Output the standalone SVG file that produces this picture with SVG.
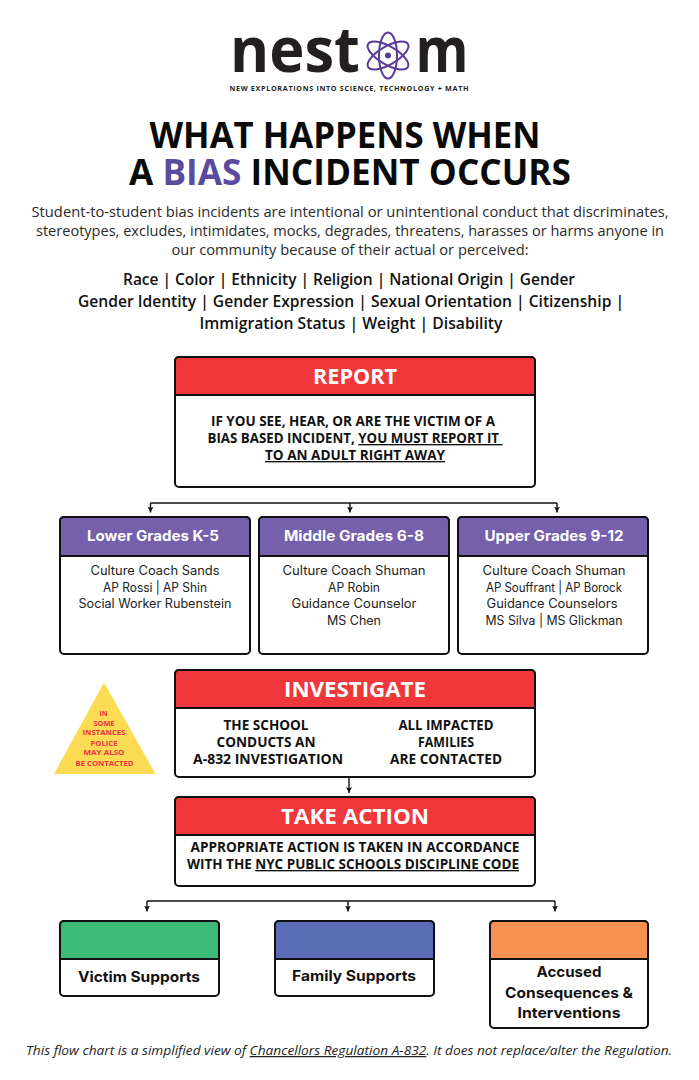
<svg xmlns="http://www.w3.org/2000/svg" width="699" height="1080" viewBox="0 0 699 1080">
<style>
text{font-family:"Open Sans","Liberation Sans",sans-serif;text-anchor:middle;fill:#000;white-space:pre}
.h{font-weight:700;font-size:35px;fill:#0a0a0a}
.b{font-size:14.4px;fill:#2a2a2a}
.g{font-weight:600;font-size:16px;fill:#111}
.box{fill:#fff;stroke:#111;stroke-width:2}
.hd{stroke:#111;stroke-width:2}
.t{font-weight:700;fill:#fff;font-size:21.5px}
.c{font-weight:700;font-size:13.4px;fill:#111}
.pt{font-family:Inter,"Open Sans",sans-serif;font-weight:700;fill:#fff;font-size:14px}
.m{font-family:Inter,"Open Sans",sans-serif;font-size:12.4px;fill:#222}
.s{font-family:Inter,"Open Sans",sans-serif;font-weight:700;font-size:14.5px;fill:#111}
.p{font-weight:700;font-size:7.6px;fill:#ee3344}
.l{stroke:#111;stroke-width:1.4;fill:none}
.logo{font-size:62px;font-weight:700;fill:#231f20}
</style>
<defs><marker id="a" markerWidth="7" markerHeight="7" refX="6" refY="3.5" orient="auto" markerUnits="userSpaceOnUse" viewBox="0 0 7 7"><path d="M0 0.500L6 3.500L0 6.500L1.500 3.500Z" fill="#111"/></marker></defs>
<rect width="699" height="1080" fill="#fff"/>
<g id="logo">
<text class="logo" x="295" y="72" textLength="130" lengthAdjust="spacingAndGlyphs">nest</text>
<text class="logo" x="442" y="72" textLength="53" lengthAdjust="spacingAndGlyphs">m</text>
<g fill="none" stroke="#5c3a98" stroke-width="2">
<ellipse cx="388" cy="55.500" rx="9" ry="23"/>
<ellipse cx="388" cy="55.500" rx="9" ry="23" transform="rotate(60 388 55.500)"/>
<ellipse cx="388" cy="55.500" rx="9" ry="23" transform="rotate(-60 388 55.500)"/>
<circle cx="388" cy="55.500" r="3" fill="#5c3a98" stroke="none"/>
</g>
<text x="349" y="91" style="font-weight:700;font-size:7.2px;fill:#231f20" textLength="239" lengthAdjust="spacing">NEW EXPLORATIONS INTO SCIENCE, TECHNOLOGY + MATH</text>
</g>
<g id="title">
<text class="h" x="345" y="148" textLength="391" lengthAdjust="spacingAndGlyphs">WHAT HAPPENS WHEN</text>
<text class="h" x="350" y="184.500" textLength="442" lengthAdjust="spacingAndGlyphs">A <tspan fill="#5b4b9f">BIAS</tspan> INCIDENT OCCURS</text>
</g>
<g id="intro">
<text class="b" x="350" y="217" textLength="637" lengthAdjust="spacingAndGlyphs">Student-to-student bias incidents are intentional or unintentional conduct that discriminates,</text>
<text class="b" x="350" y="236" textLength="628" lengthAdjust="spacingAndGlyphs">stereotypes, excludes, intimidates, mocks, degrades, threatens, harasses or harms anyone in</text>
<text class="b" x="350" y="255" textLength="357" lengthAdjust="spacingAndGlyphs">our community because of their actual or perceived:</text>
</g>
<g id="groups">
<text class="g" x="349" y="285" textLength="452" lengthAdjust="spacingAndGlyphs">Race | Color | Ethnicity | Religion | National Origin | Gender</text>
<text class="g" x="351" y="307" textLength="546" lengthAdjust="spacingAndGlyphs">Gender Identity | Gender Expression | Sexual Orientation | Citizenship |</text>
<text class="g" x="351" y="329" textLength="303" lengthAdjust="spacingAndGlyphs">Immigration Status | Weight | Disability</text>
</g>
<g id="connectors">
<path class="l" d="M150.500 503H557"/>
<path class="l" d="M150.500 503V512.500" marker-end="url(#a)"/>
<path class="l" d="M350 503V512.500" marker-end="url(#a)"/>
<path class="l" d="M557 503V512.500" marker-end="url(#a)"/>
<path class="l" d="M349 777V793" marker-end="url(#a)"/>
<path class="l" d="M147 901H555"/>
<path class="l" d="M147 901V911.500" marker-end="url(#a)"/>
<path class="l" d="M348 901V911.500" marker-end="url(#a)"/>
<path class="l" d="M555 901V911.500" marker-end="url(#a)"/>
</g>
<g id="report">
<rect class="box" x="175" y="357" width="360" height="130" rx="4"/>
<path class="hd" fill="#ef373c" d="M175 395V361a4 4 0 0 1 4-4H531a4 4 0 0 1 4 4V395Z"/>
<text class="t" x="355" y="384" textLength="84" lengthAdjust="spacingAndGlyphs">REPORT</text>
<text class="c" x="353" y="426" textLength="284" lengthAdjust="spacingAndGlyphs">IF YOU SEE, HEAR, OR ARE THE VICTIM OF A</text>
<text class="c" x="355" y="443" textLength="295" lengthAdjust="spacingAndGlyphs">BIAS BASED INCIDENT, <tspan text-decoration="underline">YOU MUST REPORT IT </tspan></text>
<text class="c" x="355" y="460" textLength="180" lengthAdjust="spacingAndGlyphs" text-decoration="underline">TO AN ADULT RIGHT AWAY</text>
</g>
<g id="lower">
<rect class="box" x="60" y="517" width="190" height="137" rx="4"/>
<path class="hd" fill="#7460ab" d="M60 556V521a4 4 0 0 1 4-4H246a4 4 0 0 1 4 4V556Z"/>
<text class="pt" x="153" y="541" textLength="132" lengthAdjust="spacingAndGlyphs">Lower Grades K-5</text>
<text class="m" x="155" y="575" textLength="129" lengthAdjust="spacingAndGlyphs">Culture Coach Sands</text>
<text class="m" x="155" y="592" textLength="104" lengthAdjust="spacingAndGlyphs">AP Rossi | AP Shin</text>
<text class="m" x="155" y="608" textLength="153" lengthAdjust="spacingAndGlyphs">Social Worker Rubenstein</text>
</g>
<g id="middle">
<rect class="box" x="259" y="517" width="190" height="137" rx="4"/>
<path class="hd" fill="#7460ab" d="M259 556V521a4 4 0 0 1 4-4H445a4 4 0 0 1 4 4V556Z"/>
<text class="pt" x="354" y="541" textLength="140" lengthAdjust="spacingAndGlyphs">Middle Grades 6-8</text>
<text class="m" x="354" y="575" textLength="143" lengthAdjust="spacingAndGlyphs">Culture Coach Shuman</text>
<text class="m" x="354" y="592" textLength="52" lengthAdjust="spacingAndGlyphs">AP Robin</text>
<text class="m" x="354" y="608" textLength="125" lengthAdjust="spacingAndGlyphs">Guidance Counselor</text>
<text class="m" x="354" y="625" textLength="54" lengthAdjust="spacingAndGlyphs">MS Chen</text>
</g>
<g id="upper">
<rect class="box" x="458" y="517" width="190" height="137" rx="4"/>
<path class="hd" fill="#7460ab" d="M458 556V521a4 4 0 0 1 4-4H644a4 4 0 0 1 4 4V556Z"/>
<text class="pt" x="554" y="541" textLength="139" lengthAdjust="spacingAndGlyphs">Upper Grades 9-12</text>
<text class="m" x="554" y="575" textLength="143" lengthAdjust="spacingAndGlyphs">Culture Coach Shuman</text>
<text class="m" x="554" y="592" textLength="136" lengthAdjust="spacingAndGlyphs">AP Souffrant | AP Borock</text>
<text class="m" x="552" y="608" textLength="131" lengthAdjust="spacingAndGlyphs">Guidance Counselors</text>
<text class="m" x="554" y="625" textLength="137" lengthAdjust="spacingAndGlyphs">MS Silva | MS Glickman</text>
</g>
<g id="police">
<polygon points="104,682.500 155.500,774 54,774" fill="#fbdb54"/>
<text class="p" x="103.500" y="715.500" textLength="8" lengthAdjust="spacingAndGlyphs">IN</text>
<text class="p" x="104" y="725.500" textLength="21" lengthAdjust="spacingAndGlyphs">SOME</text>
<text class="p" x="104" y="735" textLength="43" lengthAdjust="spacingAndGlyphs">INSTANCES</text>
<text class="p" x="104" y="745.500" textLength="27" lengthAdjust="spacingAndGlyphs">POLICE</text>
<text class="p" x="104" y="755" textLength="41" lengthAdjust="spacingAndGlyphs">MAY ALSO</text>
<text class="p" x="104.500" y="765.500" textLength="58" lengthAdjust="spacingAndGlyphs">BE CONTACTED</text>
</g>
<g id="investigate">
<rect class="box" x="175" y="670" width="360" height="107" rx="4"/>
<path class="hd" fill="#ef373c" d="M175 708V674a4 4 0 0 1 4-4H531a4 4 0 0 1 4 4V708Z"/>
<text class="t" x="355" y="697" textLength="142" lengthAdjust="spacingAndGlyphs">INVESTIGATE</text>
<text class="c" x="266" y="730" textLength="85" lengthAdjust="spacingAndGlyphs">THE SCHOOL</text>
<text class="c" x="266" y="747" textLength="99" lengthAdjust="spacingAndGlyphs">CONDUCTS AN</text>
<text class="c" x="268" y="764" textLength="150" lengthAdjust="spacingAndGlyphs">A-832 INVESTIGATION</text>
<text class="c" x="446" y="730" textLength="95" lengthAdjust="spacingAndGlyphs">ALL IMPACTED</text>
<text class="c" x="446" y="747" textLength="56" lengthAdjust="spacingAndGlyphs">FAMILIES</text>
<text class="c" x="446" y="764" textLength="112" lengthAdjust="spacingAndGlyphs">ARE CONTACTED</text>
</g>
<g id="action">
<rect class="box" x="175" y="797" width="360" height="89" rx="4"/>
<path class="hd" fill="#ef373c" d="M175 835V801a4 4 0 0 1 4-4H531a4 4 0 0 1 4 4V835Z"/>
<text class="t" x="355" y="824" textLength="148" lengthAdjust="spacingAndGlyphs">TAKE ACTION</text>
<text class="c" x="355" y="852" textLength="329" lengthAdjust="spacingAndGlyphs">APPROPRIATE ACTION IS TAKEN IN ACCORDANCE</text>
<text class="c" x="353" y="869" textLength="332" lengthAdjust="spacingAndGlyphs">WITH THE <tspan text-decoration="underline">NYC PUBLIC SCHOOLS DISCIPLINE CODE</tspan></text>
</g>
<g id="victim">
<rect class="box" x="60" y="921" width="159" height="75" rx="4"/>
<path class="hd" fill="#3cba78" d="M60 959V925a4 4 0 0 1 4-4H215a4 4 0 0 1 4 4V959Z"/>
<text class="s" x="139" y="982" textLength="122" lengthAdjust="spacingAndGlyphs">Victim Supports</text>
</g>
<g id="family">
<rect class="box" x="275" y="921" width="159" height="75" rx="4"/>
<path class="hd" fill="#5a6cb3" d="M275 959V925a4 4 0 0 1 4-4H430a4 4 0 0 1 4 4V959Z"/>
<text class="s" x="354" y="981" textLength="124" lengthAdjust="spacingAndGlyphs">Family Supports</text>
</g>
<g id="accused">
<rect class="box" x="490" y="921" width="158" height="107" rx="4"/>
<path class="hd" fill="#f79151" d="M490 959V925a4 4 0 0 1 4-4H644a4 4 0 0 1 4 4V959Z"/>
<text class="s" x="569" y="977" textLength="65" lengthAdjust="spacingAndGlyphs">Accused</text>
<text class="s" x="569" y="998" textLength="128" lengthAdjust="spacingAndGlyphs">Consequences &amp;</text>
<text class="s" x="569" y="1018" textLength="103" lengthAdjust="spacingAndGlyphs">Interventions</text>
</g>
<g id="footer">
<text x="349" y="1055" style="font-size:12.5px;font-style:italic;fill:#222" textLength="646" lengthAdjust="spacingAndGlyphs">This flow chart is a simplified view of <tspan text-decoration="underline">Chancellors Regulation A-832</tspan>. It does not replace/alter the Regulation.</text>
</g>
</svg>
